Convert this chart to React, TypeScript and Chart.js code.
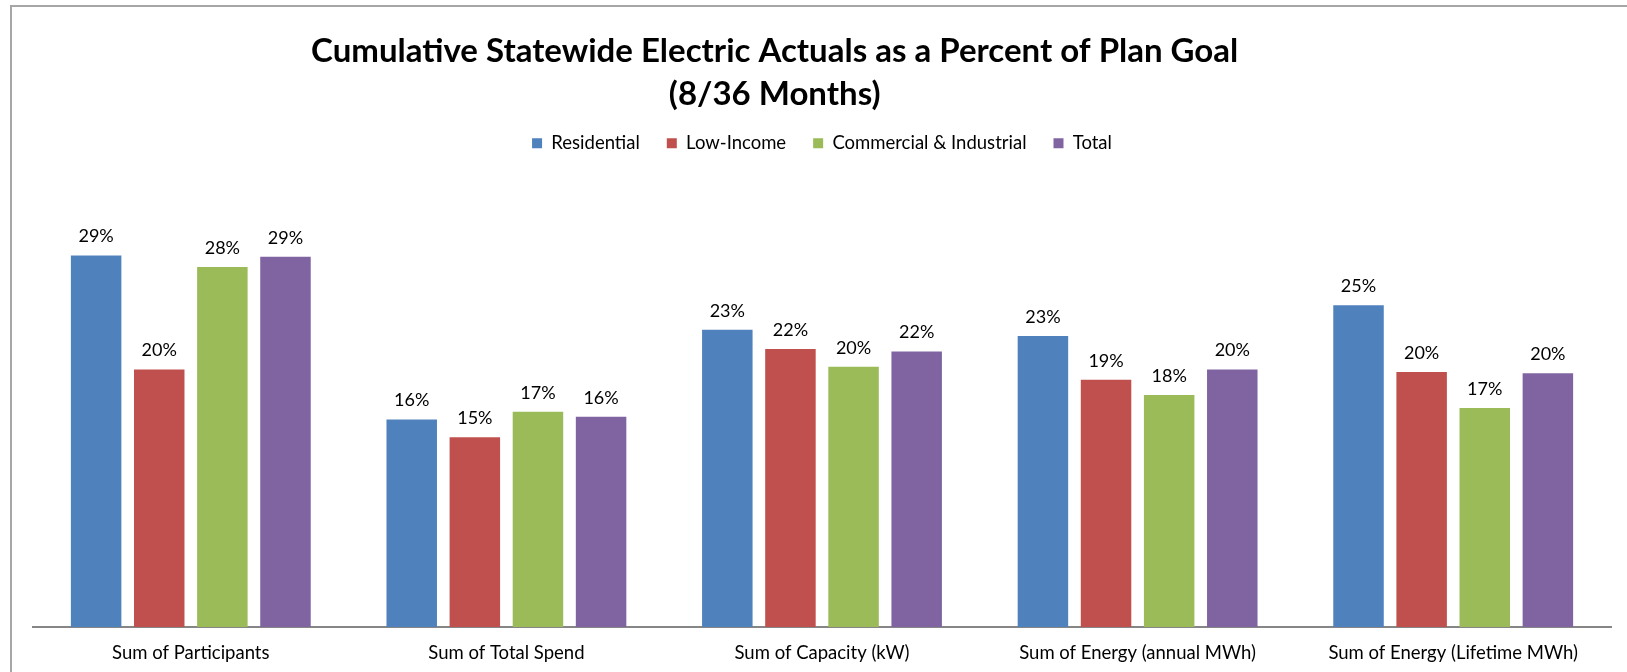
import React, { useEffect, useRef } from "react";
import { Chart, registerables } from "chart.js";

Chart.register(...registerables);

const categories = [
  "Sum of Participants",
  "Sum of Total Spend",
  "Sum of Capacity (kW)",
  "Sum of Energy (annual MWh)",
  "Sum of Energy (Lifetime MWh)",
];
const seriesNames = ["Residential", "Low-Income", "Commercial & Industrial", "Total"];
const residential = [29.0, 16.2, 23.2, 22.7, 25.1];
const lowIncome = [20.1, 14.8, 21.7, 19.3, 19.9];
const commercialIndustrial = [28.1, 16.8, 20.3, 18.1, 17.1];
const total = [28.9, 16.4, 21.5, 20.1, 19.8];
const colors = ["#4F81BD", "#C0504D", "#9BBB59", "#8064A2"];
const titleLines = ["Cumulative Statewide Electric Actuals as a Percent of Plan Goal", "(8/36 Months)"];
const yMax = 35;

const FONT = "Lato, 'Liberation Sans', sans-serif";

export default function App() {
  const ref = useRef<HTMLCanvasElement | null>(null);
  useEffect(() => {
    const canvas = ref.current;
    if (!canvas) return;
    const values = [residential, lowIncome, commercialIndustrial, total];

    const titlePlugin = {
      id: "customTitle",
      afterDraw(chart: any) {
        const { ctx, chartArea } = chart;
        ctx.save();
        ctx.fillStyle = "#000";
        ctx.font = `bold 33px ${FONT}`;
        ctx.textAlign = "center";
        ctx.textBaseline = "alphabetic";
        const cx = chartArea.left + chartArea.width * 0.47;
        ctx.fillText(titleLines[0], cx, 62);
        ctx.fillText(titleLines[1], cx, 105);
        ctx.restore();
      },
    };
    const legendSpacing = {
      id: "legendSpacing",
      beforeInit(chart: any) {
        const orig = chart.legend.fit;
        chart.legend.fit = function fit() {
          orig.bind(chart.legend)();
          this.height += 16;
        };
      },
    };
    const valueLabels = {
      id: "valueLabels",
      afterDatasetsDraw(chart: any) {
        const { ctx } = chart;
        ctx.save();
        ctx.fillStyle = "#000";
        ctx.font = `18px ${FONT}`;
        ctx.textAlign = "center";
        ctx.textBaseline = "alphabetic";
        chart.data.datasets.forEach((ds: any, i: number) => {
          const meta = chart.getDatasetMeta(i);
          meta.data.forEach((bar: any, j: number) => {
            ctx.fillText(Math.round(ds.data[j]) + "%", bar.x, bar.y - 13);
          });
        });
        ctx.restore();
      },
    };

    const chart = new Chart(canvas, {
      type: "bar",
      data: {
        labels: categories,
        datasets: seriesNames.map((name, i) => ({
          label: name,
          data: values[i],
          backgroundColor: colors[i],
          borderWidth: 0,
          categoryPercentage: 0.8,
          barPercentage: 0.8,
        })),
      },
      options: {
        responsive: false,
        animation: false,
        layout: { padding: { left: 33, right: 16, top: 107, bottom: 0 } },
        plugins: {
          title: { display: false },
          tooltip: { enabled: false },
          legend: {
            display: true,
            position: "top",
            fullSize: false,
            labels: {
              boxWidth: 10,
              boxHeight: 10,
              padding: 27,
              color: "#000",
              font: { family: FONT, size: 18.5 },
            },
          },
        },
        scales: {
          x: {
            grid: { display: false, drawTicks: false },
            border: { display: true, color: "#868686", width: 2 },
            ticks: { color: "#000", font: { family: FONT, size: 18.5 }, padding: 15, maxRotation: 0 },
            afterFit(scale: any) {
              scale.height = 45;
            },
          },
          y: {
            display: false,
            min: 0,
            max: yMax,
          },
        },
      },
      plugins: [titlePlugin, legendSpacing, valueLabels],
    });
    return () => chart.destroy();
  }, []);

  return (
    <div style={{ position: "fixed", left: 0, top: 0, width: 1627, height: 672, background: "#fff", overflow: "hidden" }}>
      <canvas ref={ref} width={1627} height={672} style={{ position: "absolute", left: 0, top: 0, width: 1627, height: 672 }} />
      <div
        style={{
          position: "absolute",
          left: 10,
          top: 5,
          width: 1700,
          height: 800,
          borderLeft: "2px solid #a6a6a6",
          borderTop: "2px solid #a6a6a6",
          pointerEvents: "none",
        }}
      />
    </div>
  );
}
